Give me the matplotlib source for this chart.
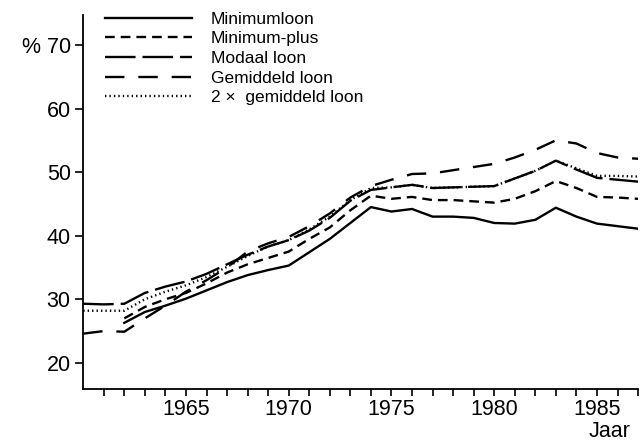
import numpy as np
import matplotlib
matplotlib.use("Agg")
import matplotlib.pyplot as plt

plt.rcParams['font.family'] = ['Liberation Sans', 'DejaVu Sans']
plt.rcParams['lines.scale_dashes'] = False

years = list(range(1960, 1988))
nan = np.nan

minimumloon = [nan, nan, 26.3, 28.0, 29.0, 30.1, 31.4, 32.7, 33.8, 34.6, 35.3, 37.4,
               39.5, 42.0, 44.5, 43.8, 44.2, 43.0, 43.0, 42.8, 42.0, 41.9, 42.5, 44.4,
               43.0, 41.9, 41.5, 41.1]
minimum_plus = [nan, nan, 27.0, 28.8, 30.0, 31.0, 32.5, 34.2, 35.5, 36.5, 37.5, 39.5,
                41.3, 44.0, 46.3, 45.8, 46.1, 45.6, 45.6, 45.4, 45.2, 45.8, 47.0, 48.6,
                47.5, 46.1, 46.0, 45.8]
modaal = [29.3, 29.2, 29.3, 31.0, 32.0, 32.8, 34.0, 35.5, 37.0, 38.3, 39.3, 40.8,
          42.8, 45.5, 47.2, 47.6, 48.0, 47.5, 47.6, 47.7, 47.8, 49.0, 50.2, 51.8,
          50.4, 49.1, 48.8, 48.5]
gemiddeld = [24.6, 25.0, 24.9, 27.0, 29.0, 31.2, 33.0, 35.0, 37.5, 38.8, 39.8, 41.5,
             43.5, 46.0, 47.8, 48.8, 49.7, 49.8, 50.3, 50.8, 51.3, 52.3, 53.5, 55.0,
             54.5, 53.0, 52.3, 52.1]
twee_x_gemiddeld = [28.2, 28.2, 28.2, 30.0, 31.2, 32.2, 33.5, 35.1, 36.8, 38.3, 39.3, 41.0,
                    43.0, 45.6, 47.5, 47.6, 48.0, 47.5, 47.6, 47.7, 47.8, 49.0, 50.2, 51.8,
                    50.6, 49.4, 49.4, 49.3]

labels = ['Minimumloon', 'Minimum-plus', 'Modaal loon', 'Gemiddeld loon', '2 \u00d7  gemiddeld loon']
series = [minimumloon, minimum_plus, modaal, gemiddeld, twee_x_gemiddeld]
styles = ['-', (0, (7, 4.3)), (0, (22, 5)), (0, (14, 10)), (0, (1, 2.2))]

fig = plt.figure(figsize=(6.4, 4.42), dpi=100)
ax = fig.add_axes([0.13, 0.12, 0.867, 0.846])

for vals, lab, ls in zip(series, labels, styles):
    ax.plot(years, vals, color='black', linestyle=ls, linewidth=1.7, label=lab)

ax.set_xlim(1960, 1987)
ax.set_ylim(15.9, 74.7)
ax.spines['top'].set_visible(False)
ax.spines['right'].set_visible(False)
ax.spines['left'].set_linewidth(1.3)
ax.spines['bottom'].set_linewidth(1.3)

ax.set_xticks([1965, 1970, 1975, 1980, 1985])
ax.set_xticks(range(1961, 1988), minor=True)
ax.set_yticks([20, 30, 40, 50, 60, 70])
ax.set_yticklabels(['20', '30', '40', '50', '60', '% 70'])
ax.tick_params(axis='both', which='both', direction='out', width=1.2, labelsize=15.5)
ax.tick_params(axis='x', which='both', length=5, pad=2.5)
ax.tick_params(axis='y', length=6, pad=3)

fig.text(0.13 + 0.867 * (25.6 / 27), 0.0, 'Jaar', ha='center', va='bottom', fontsize=15.5)

ax.legend(loc='upper left', bbox_to_anchor=(0.027, 1.028), frameon=False,
          fontsize=12.5, handlelength=5.0, handletextpad=1.1, labelspacing=0.26,
          borderaxespad=0)

fig.savefig('out.png', dpi=100)
